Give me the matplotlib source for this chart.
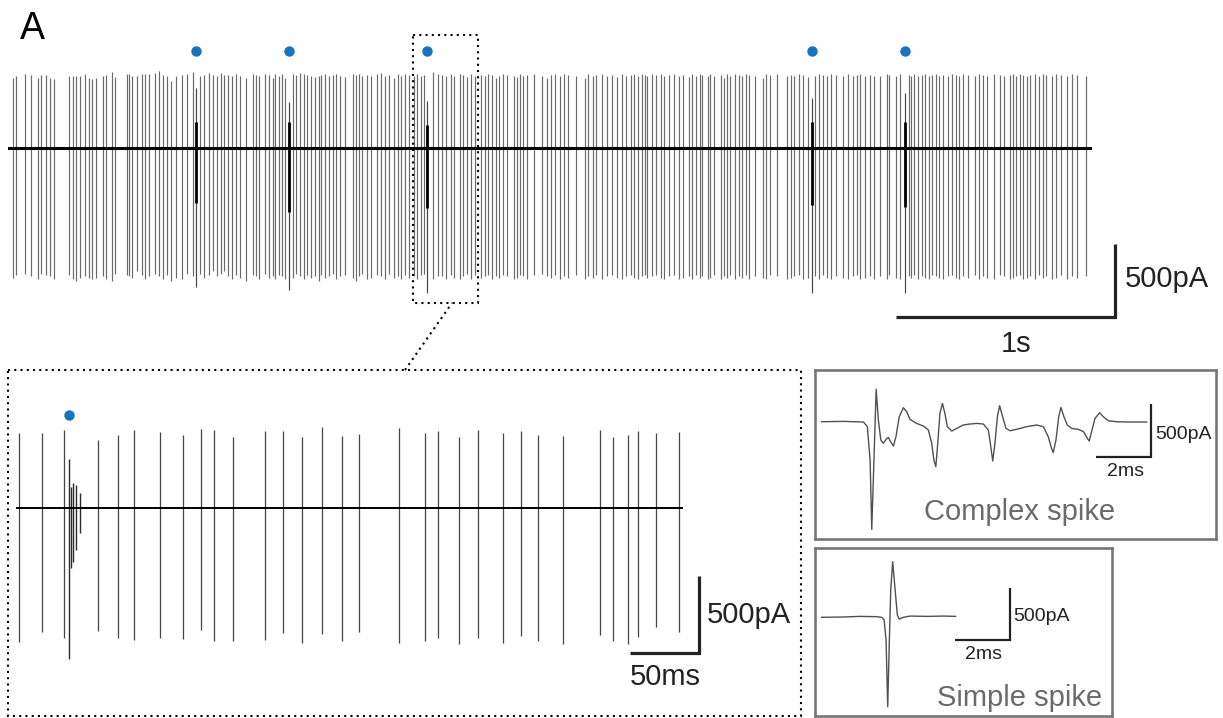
import matplotlib.pyplot as plt
from matplotlib.patches import Rectangle

plt.rcParams['font.family'] = ['Liberation Sans', 'DejaVu Sans']

# ---------------- data ----------------
# overview trace: simple spike times (s), peak / trough current (pA)
top_spike_t = [
    0.024, 0.038, 0.078, 0.105, 0.136, 0.151, 0.175, 0.192, 0.210, 0.277,
    0.297, 0.312, 0.327, 0.352, 0.368, 0.385, 0.400, 0.435, 0.449, 0.476,
    0.490, 0.542, 0.554, 0.568, 0.589, 0.612, 0.627, 0.644, 0.673, 0.689,
    0.709, 0.725, 0.743, 0.767, 0.793, 0.819, 0.846,
    0.877, 0.896, 0.916, 0.936, 0.954, 0.973, 0.986,
    1.005, 1.023, 1.041, 1.061, 1.088, 1.117, 1.131, 1.145, 1.175, 1.190,
    1.209, 1.221, 1.236, 1.253, 1.266,
    1.301, 1.316, 1.333, 1.350, 1.367, 1.385, 1.403, 1.419, 1.431, 1.449,
    1.464, 1.484, 1.498, 1.515, 1.540, 1.574, 1.589, 1.603, 1.618, 1.639,
    1.658, 1.685, 1.702, 1.720, 1.741, 1.761, 1.779, 1.796, 1.812, 1.830,
    1.853, 1.868, 1.884, 1.900,
    1.939, 1.962,
    1.983, 2.001, 2.021, 2.037, 2.063, 2.078, 2.095, 2.114, 2.131, 2.158,
    2.178, 2.192, 2.211, 2.227, 2.242, 2.260, 2.280, 2.311, 2.326, 2.339,
    2.352, 2.371, 2.402, 2.440, 2.463, 2.481, 2.498, 2.519, 2.539, 2.557,
    2.595, 2.635, 2.650, 2.670, 2.686, 2.714, 2.737, 2.759, 2.782, 2.802,
    2.821, 2.843, 2.860, 2.878, 2.894, 2.907, 2.919, 2.939, 2.958,
    2.982, 2.997, 3.017, 3.040, 3.063, 3.081, 3.111, 3.122, 3.140, 3.160,
    3.169, 3.195, 3.207, 3.225, 3.256, 3.271, 3.283, 3.298, 3.321, 3.339,
    3.352, 3.370, 3.385, 3.411, 3.446, 3.461, 3.479, 3.511, 3.556, 3.575,
    3.590, 3.613, 3.632, 3.652,
    3.686, 3.705, 3.720, 3.738, 3.758, 3.781, 3.811, 3.834, 3.857, 3.877,
    3.892, 3.913, 3.937, 3.955,
    3.983, 4.014, 4.023, 4.053, 4.074,
    4.114, 4.125, 4.136, 4.155, 4.174, 4.189, 4.205, 4.221, 4.236, 4.251,
    4.269, 4.292, 4.312, 4.327, 4.342, 4.361, 4.384, 4.417, 4.434, 4.452,
    4.470, 4.502, 4.528, 4.547, 4.574, 4.589, 4.604, 4.620, 4.635, 4.653,
    4.668, 4.688, 4.707, 4.726, 4.741, 4.767, 4.784, 4.807, 4.837, 4.860,
    4.881, 4.921,
]
top_spike_up = [
    480, 490, 510, 500, 480, 500, 500, 480, 470, 490,
    490, 490, 495, 510, 480, 470, 480, 490, 500, 520,
    485, 510, 505, 490, 490, 505, 510, 510, 515, 530,
    500, 490, 460, 490, 500, 510, 520,
    490, 500, 515, 500, 490, 515, 500,
    500, 490, 505, 495, 480, 510, 500, 495, 505, 500,
    480, 505, 490, 510, 480,
    505, 500, 515, 505, 500, 490, 485, 495, 500, 505,
    490, 500, 510, 495, 485, 505, 500, 510, 495, 500,
    490, 505, 515, 490, 500, 480, 505, 495, 510, 500,
    495, 505, 490, 500,
    520, 510,
    500, 495, 505, 490, 510, 500, 485, 505, 495, 500,
    490, 505, 500, 480, 495, 510, 500, 490, 485, 505,
    495, 500, 510, 490, 480, 500, 505, 495, 510, 500,
    490, 480, 505, 495, 500, 510, 490, 500, 485, 505,
    495, 500, 510, 490, 505, 500, 495, 510, 500,
    505, 495, 500, 510, 490, 500, 485, 505, 495, 510,
    500, 490, 505, 495, 500, 480, 505, 495, 510, 500,
    490, 505, 500, 495, 480, 505, 500, 510, 490, 500,
    495, 505, 500, 485,
    495, 505, 500, 490, 510, 500, 495, 505, 490, 500,
    505, 495, 500, 490,
    495, 505, 500, 490, 510,
    500, 495, 505, 490, 500, 510, 495, 500, 505, 490,
    500, 495, 510, 500, 490, 505, 500, 495, 510, 500,
    490, 505, 500, 495, 500, 510, 490, 505, 500, 495,
    500, 505, 495, 510, 500, 490, 505, 500, 495, 510,
    500, 495,
]
top_spike_down = [
    -890, -870, -860, -880, -900, -860, -870, -880, -900, -870,
    -900, -910, -890, -880, -890, -900, -890, -880, -900, -910,
    -860, -870, -880, -890, -840, -870, -900, -880, -860, -880,
    -900, -870, -910, -890, -900, -860, -880,
    -860, -890, -870, -840, -880, -860, -840,
    -880, -900, -870, -890, -910, -870, -880, -900, -860, -890,
    -880, -900, -870, -880, -900,
    -890, -860, -880, -900, -870, -890, -880, -910, -870, -890,
    -880, -860, -900, -880, -870, -890, -910, -880, -860, -900,
    -890, -870, -880, -900, -860, -890, -880, -900, -870, -890,
    -880, -900, -870, -860,
    -900, -880,
    -880, -900, -870, -890, -900, -880, -860, -900, -870, -890,
    -880, -870, -900, -880, -890, -870, -880, -900, -890, -870,
    -880, -900, -870, -860, -880, -890, -870, -900, -880, -890,
    -870, -900, -880, -890, -870, -900, -880, -870, -890, -900,
    -880, -870, -890, -900, -880, -870, -890, -880, -870,
    -890, -900, -880, -870, -900, -890, -880, -900, -870, -890,
    -880, -900, -890, -870, -900, -880, -890, -870, -900, -880,
    -890, -870, -900, -880, -890, -900, -870, -880, -900, -890,
    -880, -870, -900, -890,
    -880, -900, -870, -890, -900, -880, -890, -900, -880, -870,
    -900, -890, -880, -900,
    -880, -900, -870, -890, -900,
    -880, -890, -870, -900, -880, -890, -900, -870, -880, -890,
    -900, -880, -870, -890, -900, -880, -890, -870, -900, -880,
    -890, -900, -870, -880, -900, -890, -880, -870, -900, -890,
    -880, -900, -870, -890, -880, -900, -890, -870, -900, -880,
    -890, -880,
]
top_duration = 4.94  # s

# complex spikes in the overview (s, pA)
top_cs_t = [0.857, 1.282, 1.915, 3.670, 4.094]
top_cs_up = [411, 317, 324, 340, 375]
top_cs_down = [-952, -972, -993, -993, -993]
top_cs_burst_hi = [178, 180, 158, 180, 180]
top_cs_burst_lo = [-377, -436, -411, -390, -402]

# zoomed trace: simple spike times (ms), peak / trough (pA)
zoom_spike_t = [1.2, 18.1, 33.8, 58.9, 73.4, 85.0, 103.8, 120.1, 133.3, 143.0,
                156.7, 179.7, 193.0, 206.5, 220.8, 235.3, 247.8, 277.0, 295.9, 304.8,
                320.1, 334.3, 351.9, 365.4, 377.7, 395.8, 422.4, 432.1, 442.8, 450.2,
                463.0, 479.7]
zoom_spike_up = [483, 483, 504, 439, 472, 504, 493, 472, 509, 504,
                 457, 500, 500, 457, 522, 467, 478, 515, 487, 500,
                 457, 504, 483, 498, 472, 465, 506, 457, 470, 500,
                 487, 493]
zoom_spike_down = [-870, -805, -848, -799, -844, -859, -844, -855, -794, -863,
                   -863, -859, -811, -876, -820, -863, -805, -876, -863, -848,
                   -885, -844, -876, -833, -863, -885, -827, -866, -885, -842,
                   -777, -805]
zoom_duration = 481.6  # ms

# complex spike burst in the zoomed trace (ms, pA)
zoom_cs_t = [37.9, 39.1, 40.8, 42.7, 45.6]
zoom_cs_up = [316, 136, 158, 147, 93]
zoom_cs_down = [-985, -394, -351, -275, -167]

# averaged complex spike waveform (ms, pA)
cs_t = [0.0, 0.79, 1.52, 1.66, 1.76, 1.82, 1.90, 1.98, 2.06, 2.15,
        2.24, 2.34, 2.42, 2.51, 2.61, 2.70, 2.82, 2.97, 3.09, 3.21,
        3.45, 3.70, 3.88, 4.00, 4.08, 4.15, 4.22, 4.30, 4.39, 4.48,
        4.57, 4.73, 4.91, 5.15, 5.39, 5.64, 5.88, 6.06, 6.15, 6.22,
        6.30, 6.39, 6.47, 6.58, 6.70, 6.85, 7.09, 7.45, 7.82, 8.06,
        8.24, 8.36, 8.42, 8.52, 8.62, 8.70, 8.81, 8.93, 9.09, 9.33,
        9.52, 9.66, 9.73, 9.83, 9.94, 10.11, 10.24, 10.42, 10.73, 11.21,
        11.82]
cs_v = [0, 3, -3, -47, -362, -1016, -362, 305, 16, -173,
        -204, -167, -148, -189, -230, -142, 47, 132, 94, 22,
        -16, -41, -79, -204, -362, -425, -204, 79, 173, 79,
        -47, -88, -63, -31, -22, -16, -22, -79, -236, -371,
        -204, 47, 151, 47, -63, -85, -72, -47, -31, -47,
        -142, -252, -292, -173, 47, 135, 47, -31, -63, -72,
        -94, -157, -182, -79, 31, 85, 47, 9, 0, -3,
        -3]

# averaged simple spike waveform (ms, pA)
ss_t = [0.0, 0.79, 1.39, 2.00, 2.18, 2.27, 2.34, 2.40, 2.46, 2.51,
        2.58, 2.67, 2.75, 2.82, 2.97, 3.21, 3.82, 4.42, 4.87]
ss_v = [-6, -3, 3, 0, -6, -32, -226, -870, -226, 258,
        532, 258, 16, -23, -6, 6, 3, 6, 3]

# ---------------- figure ----------------
W, H = 1223, 718
fig = plt.figure(figsize=(W / 100, H / 100), dpi=100)


def px_axes(x0, y0, x1, y1):
    return fig.add_axes([x0 / W, 1 - y1 / H, (x1 - x0) / W, (y1 - y0) / H])


def scalebar(ax, t_end, v_bottom, t_len, v_len, lw):
    ax.plot([t_end - t_len, t_end, t_end], [v_bottom, v_bottom, v_bottom + v_len],
            color='#222222', lw=lw, solid_joinstyle='miter', solid_capstyle='butt')


blue = '#1a74bd'

# overview trace
ax = px_axes(8, 0, 1223, 360)
ax.set_xlim(0, 5.548)
ax.set_ylim(-1452, 1014)
ax.axis('off')
ax.vlines(top_spike_t, top_spike_down, top_spike_up, color='#6a6a6a', lw=0.85)
ax.vlines(top_cs_t, top_cs_down, top_cs_up, color='#444444', lw=0.85)
ax.vlines(top_cs_t, top_cs_burst_lo, top_cs_burst_hi, color='black', lw=2.0)
ax.plot([0, top_duration], [0, 0], color='black', lw=2.2)
ax.plot(top_cs_t, [664] * len(top_cs_t), 'o', color=blue, ms=6.5)
scalebar(ax, 5.055, -1157, 1.0, 500, 2.3)
ax.text(5.10, -954, '500pA', fontsize=21, ha='left', va='baseline', color='#222222')
ax.text(4.603, -1397, '1s', fontsize=21, ha='center', va='baseline', color='#222222')

# zoomed trace
az = px_axes(8, 370, 801, 717)
az.set_xlim(-6.52, 568.1)
az.set_ylim(-1359, 894)
az.axis('off')
az.vlines(zoom_spike_t, zoom_spike_down, zoom_spike_up, color='#444444', lw=0.9)
az.vlines(zoom_cs_t, zoom_cs_down, zoom_cs_up, color='#2a2a2a', lw=1.0)
az.plot([0, zoom_duration], [0, 0], color='black', lw=1.4)
az.plot(zoom_cs_t[:1], [602], 'o', color=blue, ms=6.5)
scalebar(az, 494.2, -945, 50, 500, 2.3)
az.text(500, -749, '500pA', fontsize=21, ha='left', va='baseline', color='#222222')
az.text(469.6, -1151, '50ms', fontsize=21, ha='center', va='baseline', color='#222222')

# complex spike inset
ac = px_axes(815, 370, 1216, 539)
ac.set_xlim(-0.244, 14.34)
ac.set_ylim(-1107, 488)
ac.set_xticks([])
ac.set_yticks([])
for s in ac.spines.values():
    s.set_color('#777777')
    s.set_linewidth(1.9)
ac.plot(cs_t, cs_v, color='#505050', lw=1.0)
scalebar(ac, 11.96, -336, 2, 500, 1.6)
ac.text(12.12, -163, '500pA', fontsize=14, ha='left', va='baseline', color='#222222')
ac.text(11.04, -512, '2ms', fontsize=14, ha='center', va='baseline', color='#222222')
ac.text(7.18, -927, 'Complex spike', fontsize=21, ha='center', va='baseline', color='#6a6a6a')

# simple spike inset
ass = px_axes(815, 548, 1112, 716)
ass.set_xlim(-0.244, 10.556)
ass.set_ylim(-960, 664)
ass.set_xticks([])
ass.set_yticks([])
for s in ass.spines.values():
    s.set_color('#777777')
    s.set_linewidth(1.9)
ass.plot(ss_t, ss_v, color='#505050', lw=1.0)
scalebar(ass, 6.85, -227, 2, 500, 1.6)
ass.text(6.96, -42, '500pA', fontsize=14, ha='left', va='baseline', color='#222222')
ass.text(5.88, -409, '2ms', fontsize=14, ha='center', va='baseline', color='#222222')
ass.text(7.20, -861, 'Simple spike', fontsize=21, ha='center', va='baseline', color='#6a6a6a')

# overlay: panel letter, dotted zoom boxes and connector (pixel coordinates)
ov = fig.add_axes([0, 0, 1, 1])
ov.set_xlim(0, W)
ov.set_ylim(H, 0)
ov.axis('off')
ov.patch.set_alpha(0)
dots = dict(fill=False, ec='black', lw=1.5, ls=(0, (1, 2)))
ov.add_patch(Rectangle((413, 35), 65, 268, **dots))
ov.add_patch(Rectangle((8, 370), 793, 346, **dots))
ov.plot([405, 452], [370, 303], color='black', lw=1.5, ls=(0, (1, 2)))
ov.text(20, 39, 'A', fontsize=27, ha='left', va='baseline', color='black')

fig.savefig('out.png', dpi=100)
